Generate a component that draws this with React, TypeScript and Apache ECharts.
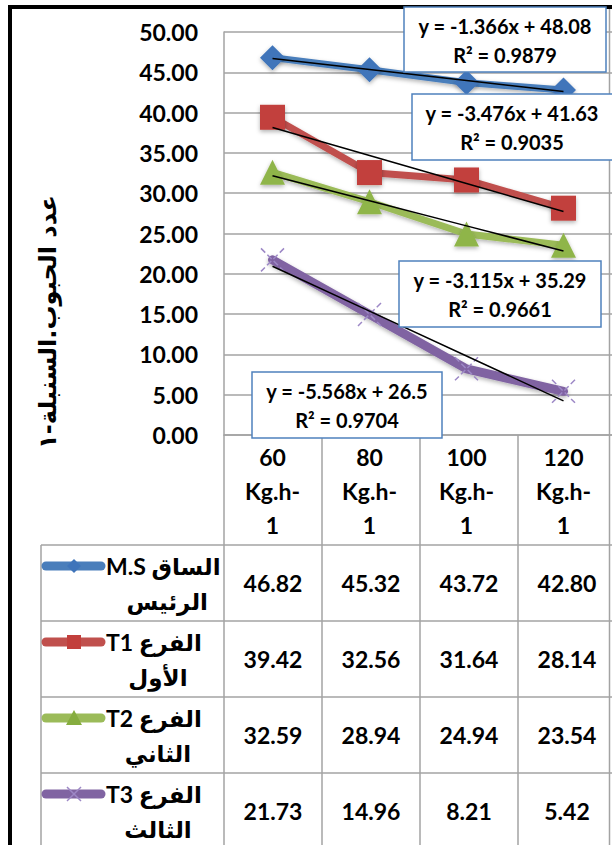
import React, { useEffect, useRef } from "react";
import * as echarts from "echarts";

// ---------- data ----------
const doses = [60, 80, 100, 120];
const unitLine = "Kg.h-";
const unitTail = "1";
const msValues = [46.82, 45.32, 43.72, 42.8];
const t1Values = [39.42, 32.56, 31.64, 28.14];
const t2Values = [32.59, 28.94, 24.94, 23.54];
const t3Values = [21.73, 14.96, 8.21, 5.42];
const seriesLine1 = ["M.S الساق", "T1 الفرع", "T2 الفرع", "T3 الفرع"];
const seriesLine2 = ["الرئيس", "الأول", "الثاني", "الثالث"];
const trendSlopes = [-1.366, -3.476, -3.115, -5.568];
const trendIntercepts = [48.08, 41.63, 35.29, 26.5];
const trendR2 = ["0.9879", "0.9035", "0.9661", "0.9704"];
const yAxisTitle = "عدد الحبوب.السنبلة-١";
const yMin = 0;
const yMax = 50;
const yStep = 5;

const allValues = [msValues, t1Values, t2Values, t3Values];

// ---------- layout / style ----------
const W = 612;
const H = 845;
const GRID_L = 224;
const GRID_T = 32;
const GRID_B = 435;
const COL_W = 98;
const TABLE_L = 41;
const HEADER_B = 545;
const ROW_H = 76;
const GRAY = "#a3a3a3";
const FONT = "Lato, 'DejaVu Sans', sans-serif";
const AR_FONT = "'DejaVu Sans', sans-serif";

const lineColors = ["#4a7ebb", "#c0504d", "#9bbb59", "#8064a2"];
const markerColors = ["#3f74ba", "#c23f3c", "#8fb54a", "#9d88c6"];
const lineWidths = [7, 7, 7, 9];
const symbols = ["diamond", "rect", "triangle", "path://M0,0L20,20M20,0L0,20"];
const symbolSizes = [25, 25, 25, 23];
const boxes = [
  { x: 404, y: 7, w: 202, h: 65 },
  { x: 412, y: 94, w: 210, h: 66 },
  { x: 399, y: 261, w: 202, h: 66 },
  { x: 252, y: 372, w: 190, h: 66 },
];

function measure(text: string, font: string): number {
  const c = document.createElement("canvas").getContext("2d");
  if (!c) return text.length * 12;
  c.font = font;
  return c.measureText(text).width;
}

function swatch(i: number, cy: number): any[] {
  const color = lineColors[i];
  const mc = markerColors[i];
  const x1 = 46;
  const x2 = 101;
  const mx = 74;
  const els: any[] = [
    {
      type: "line",
      shape: { x1, y1: cy, x2, y2: cy },
      style: { stroke: color, lineWidth: 9, lineCap: "round" },
      z: 5,
    },
  ];
  const s = 7;
  if (i === 0) {
    els.push({
      type: "polygon",
      shape: { points: [[mx, cy - s], [mx + s, cy], [mx, cy + s], [mx - s, cy]] },
      style: { fill: mc },
      z: 6,
    });
  } else if (i === 1) {
    els.push({
      type: "rect",
      shape: { x: mx - s, y: cy - s, width: 2 * s, height: 2 * s },
      style: { fill: mc },
      z: 6,
    });
  } else if (i === 2) {
    els.push({
      type: "polygon",
      shape: { points: [[mx, cy - s - 1], [mx + s + 1, cy + s], [mx - s - 1, cy + s]] },
      style: { fill: "#86ad3f" },
      z: 6,
    });
  } else {
    els.push(
      { type: "line", shape: { x1: mx - s, y1: cy - s, x2: mx + s, y2: cy + s }, style: { stroke: mc, lineWidth: 1.5 }, z: 6 },
      { type: "line", shape: { x1: mx + s, y1: cy - s, x2: mx - s, y2: cy + s }, style: { stroke: mc, lineWidth: 1.5 }, z: 6 }
    );
  }
  return els;
}

export default function App() {
  const ref = useRef<HTMLDivElement>(null);

  useEffect(() => {
    if (!ref.current) return;
    const chart = echarts.init(ref.current, undefined, { renderer: "svg", width: W, height: H });

    const graphics: any[] = [];
    // outer frame
    graphics.push({
      type: "rect",
      shape: { x: 10, y: 7, width: 800, height: 1000 },
      style: { fill: "none", stroke: "#000", lineWidth: 4 },
      z: 1,
    });
    graphics.push({
      type: "line",
      shape: { x1: 609.5, y1: 9, x2: 609.5, y2: H },
      style: { stroke: GRAY, lineWidth: 1.5 },
      z: 1,
    });

    // table grid lines
    const nRows = allValues.length;
    for (let r = 0; r <= nRows; r++) {
      const y = HEADER_B + r * ROW_H;
      graphics.push({
        type: "line",
        shape: { x1: TABLE_L, y1: y, x2: W, y2: y },
        style: { stroke: GRAY, lineWidth: 1.5 },
        z: 1,
      });
    }
    graphics.push({
      type: "line",
      shape: { x1: TABLE_L, y1: HEADER_B, x2: TABLE_L, y2: H },
      style: { stroke: GRAY, lineWidth: 1.5 },
      z: 1,
    });
    for (let c = 0; c <= doses.length; c++) {
      const x = GRID_L + c * COL_W;
      graphics.push({
        type: "line",
        shape: { x1: x, y1: GRID_B, x2: x, y2: H },
        style: { stroke: GRAY, lineWidth: 1.5 },
        z: 1,
      });
    }

    // table cells
    const numFont = `bold 23px ${FONT}`;
    allValues.forEach((vals, r) => {
      const top = HEADER_B + r * ROW_H;
      vals.forEach((v, c) => {
        graphics.push({
          type: "text",
          x: GRID_L + c * COL_W + COL_W / 2,
          y: top + 38,
          style: {
            text: v.toFixed(2),
            font: numFont,
            fill: "#000",
            textAlign: "center",
            textVerticalAlign: "middle",
          },
          z: 5,
        });
      });
      const w1 = measure(seriesLine1[r], numFont);
      const cx = 106 + w1 / 2;
      graphics.push({
        type: "text",
        x: cx,
        y: top + 21,
        style: { text: seriesLine1[r], font: numFont, fill: "#000", textAlign: "center", textVerticalAlign: "middle" },
        z: 5,
      });
      graphics.push({
        type: "text",
        x: cx + 4,
        y: top + 56,
        style: { text: seriesLine2[r], font: numFont, fill: "#000", textAlign: "center", textVerticalAlign: "middle" },
        z: 5,
      });
      graphics.push(...swatch(r, top + 21));
    });

    // trendline label boxes
    boxes.forEach((b, i) => {
      const cx = b.x + Math.min(b.w, W - b.x) / 2;
      graphics.push({
        type: "rect",
        shape: { x: b.x, y: b.y, width: b.w, height: b.h },
        style: { fill: "#fff", stroke: "#4f81bd", lineWidth: 1.5 },
        z: 20,
      });
      graphics.push({
        type: "text",
        x: cx,
        y: b.y + 19,
        style: {
          text: `y = ${trendSlopes[i]}x + ${trendIntercepts[i]}`,
          font: `bold 20px ${FONT}`,
          fill: "#000",
          textAlign: "center",
          textVerticalAlign: "middle",
        },
        z: 21,
      });
      graphics.push({
        type: "text",
        x: cx,
        y: b.y + 48,
        style: {
          text: `R² = ${trendR2[i]}`,
          font: `bold 20px ${FONT}`,
          fill: "#000",
          textAlign: "center",
          textVerticalAlign: "middle",
        },
        z: 21,
      });
    });

    // y axis title
    graphics.push({
      type: "text",
      x: 48,
      y: 322,
      rotation: Math.PI / 2,
      style: {
        text: yAxisTitle,
        font: `bold 24px ${AR_FONT}`,
        fill: "#000",
        textAlign: "center",
        textVerticalAlign: "middle",
      },
      z: 5,
    });

    const dataSeries = allValues.map((vals, i) => ({
      type: "line",
      name: seriesLine1[i] + " " + seriesLine2[i],
      data: vals,
      symbol: symbols[i],
      symbolSize: symbolSizes[i],
      lineStyle: {
        width: lineWidths[i],
        color: lineColors[i],
        cap: "round",
        join: "round",
        shadowBlur: 4,
        shadowColor: "rgba(0,0,0,0.3)",
        shadowOffsetY: 2,
      },
      itemStyle:
        i === 3
          ? { color: "none", borderColor: markerColors[i], borderWidth: 1.5, borderType: "dashed" }
          : {
              color: markerColors[i],
              borderWidth: 0,
              shadowBlur: 4,
              shadowColor: "rgba(0,0,0,0.3)",
              shadowOffsetY: 2,
            },
      z: 2,
      silent: true,
    }));

    const trendSeries = trendSlopes.map((s, i) => ({
      type: "line",
      name: "trend" + i,
      data: doses.map((_, k) => +(s * (k + 1) + trendIntercepts[i]).toFixed(3)),
      symbol: "none",
      lineStyle: { color: "#000", width: 1.5 },
      z: 3,
      silent: true,
    }));

    chart.setOption({
      animation: false,
      backgroundColor: "#fff",
      grid: { left: GRID_L, top: GRID_T, width: COL_W * doses.length, height: GRID_B - GRID_T },
      xAxis: {
        type: "category",
        data: doses.map((d) => `${d}\n${unitLine}\n${unitTail}`),
        boundaryGap: true,
        axisLine: { show: true, lineStyle: { color: GRAY, width: 1.5 } },
        axisTick: { show: false },
        splitLine: { show: false },
        axisLabel: {
          interval: 0,
          margin: 5,
          lineHeight: 34,
          fontSize: 23,
          fontWeight: "bold",
          color: "#000",
          fontFamily: FONT,
        },
      },
      yAxis: {
        type: "value",
        min: yMin,
        max: yMax,
        interval: yStep,
        axisLine: { show: true, lineStyle: { color: GRAY, width: 1.5 } },
        axisTick: { show: false },
        splitLine: { show: true, lineStyle: { color: GRAY, width: 1.5 } },
        axisLabel: {
          formatter: (v: number) => v.toFixed(2),
          margin: 26,
          fontSize: 23,
          fontWeight: "bold",
          color: "#000",
          fontFamily: FONT,
        },
      },
      graphic: { elements: graphics },
      series: [...dataSeries, ...trendSeries],
    });

    return () => chart.dispose();
  }, []);

  return (
    <div
      ref={ref}
      style={{ position: "fixed", left: 0, top: 0, width: W, height: H, background: "#fff" }}
    />
  );
}
